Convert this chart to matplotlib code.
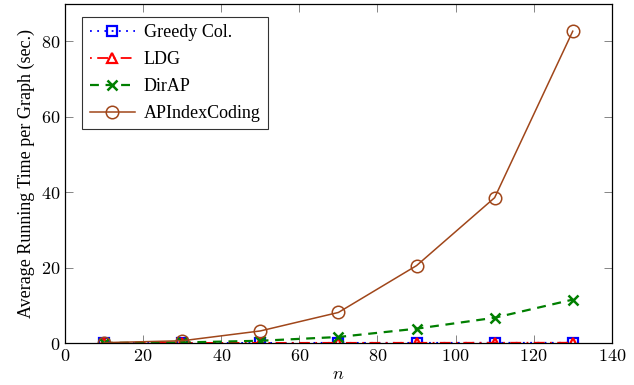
import matplotlib.pyplot as plt
from matplotlib.ticker import MultipleLocator

plt.rcParams['font.family'] = ['Liberation Serif', 'DejaVu Serif']
plt.rcParams['mathtext.fontset'] = 'cm'

n = [10, 30, 50, 70, 90, 110, 130]
greedy = [0.02, 0.03, 0.04, 0.05, 0.05, 0.06, 0.07]
ldg = [0.02, 0.03, 0.04, 0.05, 0.06, 0.07, 0.08]
dirap = [0.02, 0.15, 0.6, 1.6, 3.8, 6.7, 11.5]
apindex = [0.1, 0.6, 3.2, 8.1, 20.5, 38.5, 82.6]

fig = plt.figure(figsize=(6.34, 3.85), dpi=100)
ax = fig.add_axes([0.1025, 0.109, 0.8625, 0.8806])

ax.plot(n, greedy, color='blue', linestyle=(0, (1, 3)), marker='s', markersize=7,
        markerfacecolor='none', markeredgewidth=1.6, linewidth=1.3, label='Greedy Col.')
ax.plot(n, ldg, color='red', linestyle=(0, (1, 3, 6, 3)), marker='^', markersize=7,
        markerfacecolor='none', markeredgewidth=1.6, linewidth=1.3, label='LDG')
ax.plot(n, dirap, color='#007f00', linestyle=(0, (4, 3)), marker='x', markersize=7,
        markeredgewidth=1.8, linewidth=1.6, label='DirAP')
ax.plot(n, apindex, color='#a0461a', linestyle='-', marker='o', markersize=9,
        markerfacecolor='none', markeredgewidth=1.1, linewidth=1.1, label='APIndexCoding')

ax.set_xlim(0, 140)
ax.set_ylim(0, 89.8)
ax.xaxis.set_major_locator(MultipleLocator(20))
ax.yaxis.set_major_locator(MultipleLocator(20))
ax.set_xticks(range(0, 141, 20))
ax.set_xticklabels(['$%d$' % v for v in range(0, 141, 20)])
ax.set_yticks(range(0, 81, 20))
ax.set_yticklabels(['$%d$' % v for v in range(0, 81, 20)])
ax.tick_params(direction='in', top=True, right=True, length=6, width=0.5,
               labelsize=13, color='#555555')
for s in ax.spines.values():
    s.set_linewidth(0.9)

ax.set_xlabel('$n$', fontsize=13, labelpad=1)
ax.set_ylabel('Average Running Time per Graph (sec.)', fontsize=13, labelpad=4)

leg = ax.legend(loc='upper left', fontsize=13, fancybox=False, edgecolor='black',
                handlelength=2.5, handletextpad=0.5, borderaxespad=0.6,
                labelspacing=0.55, bbox_to_anchor=(0.012, 0.993))
leg.get_frame().set_linewidth(0.8)

fig.savefig('out.png', dpi=100)
